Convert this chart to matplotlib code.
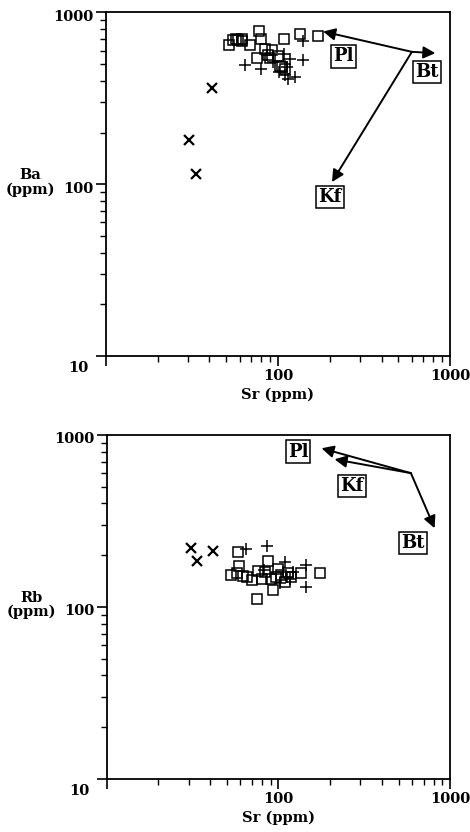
#!/usr/bin/env python3
"""
Sr-Ba and Sr-Rb log-log diagrams with mineral fractionation vectors
(Pl, Kf, Bt).  Three sample groups: squares, pluses and crosses.
"""
import matplotlib
matplotlib.use("Agg")
import matplotlib.pyplot as plt
import matplotlib.transforms as mtransforms
from matplotlib.ticker import LogLocator, NullFormatter, FixedLocator

plt.rcParams["font.family"] = ["DejaVu Serif"]
plt.rcParams["font.weight"] = "bold"

# ── Top panel: Sr vs Ba ────────────────────────────────────────────────
BA_SQ_SR = [52, 55, 57, 59, 62, 62, 69, 78, 80, 76, 84, 88, 92, 90, 100, 103, 106, 110, 109, 135, 171]
BA_SQ_BA = [650, 695, 705, 695, 680, 700, 650, 780, 700, 540, 615, 565, 607, 540, 560, 490, 480, 470, 705, 750, 728]

BA_PL_SR = [64, 80, 108, 118, 140, 140, 101, 110, 115, 86, 94, 113, 125]
BA_PL_BA = [492, 471, 575, 538, 685, 530, 449, 430, 411, 562, 513, 480, 420]

BA_X_SR = [41.5, 30.6, 33.5]
BA_X_BA = [365, 180, 115]

# vector origin and tips (Sr, Ba)
BA_ORIGIN = (600, 590)
BA_VECTORS = {"Pl": (183, 775), "Bt": (822, 580), "Kf": (206, 103)}
BA_LABELS = {"Pl": (240, 555), "Bt": (735, 450), "Kf": (201, 84)}

# ── Bottom panel: Sr vs Rb ─────────────────────────────────────────────
RB_SQ_SR = [58, 59, 53, 57, 62, 70, 76, 80, 87, 91, 93, 75, 104, 109, 113, 136, 174, 100, 66, 84, 97, 118]
RB_SQ_RB = [210, 174, 153, 157, 151, 143, 162, 145, 186, 145, 125, 112, 153, 140, 157, 157, 157, 166, 150, 160, 150, 150]

RB_PL_SR = [65, 86, 109, 144, 144, 82, 121, 102, 112, 106, 116]
RB_PL_RB = [216, 227, 183, 175, 131, 164, 160, 137, 150, 160, 145]

RB_X_SR = [30.8, 33.4, 41.3]
RB_X_RB = [219, 186, 212]

RB_ORIGIN = (590, 600)
RB_VECTORS = {"Pl": (178, 837), "Kf": (212, 722), "Bt": (811, 287)}
RB_LABELS = {"Pl": (130, 800), "Kf": (269, 505), "Bt": (607, 235)}


def style_axes(ax, ylabel):
    ax.set_xscale("log")
    ax.set_yscale("log")
    ax.set_xlim(10, 1000)
    ax.set_ylim(10, 1000)
    for sp in ax.spines.values():
        sp.set_linewidth(1.3)
    ax.xaxis.set_major_locator(FixedLocator([10, 100, 1000]))
    ax.yaxis.set_major_locator(FixedLocator([10, 100, 1000]))
    ax.xaxis.set_minor_locator(LogLocator(base=10, subs=range(2, 10)))
    ax.yaxis.set_minor_locator(LogLocator(base=10, subs=range(2, 10)))
    ax.xaxis.set_minor_formatter(NullFormatter())
    ax.yaxis.set_minor_formatter(NullFormatter())
    ax.set_xticklabels(["", "100", "1000"])
    ax.set_yticklabels(["10", "100", "1000"])
    ax.tick_params(which="major", direction="out", length=7, width=1.2,
                   labelsize=10.5, top=False, right=False)
    ax.tick_params(which="minor", direction="out", length=4, width=1.0,
                   top=False, right=False)
    ax.tick_params(axis="x", which="major", pad=2)
    ax.tick_params(axis="y", which="major", pad=2)
    # shift the y "10" label down into the corner
    lab = ax.get_yticklabels()[0]
    lab.set_transform(lab.get_transform() + mtransforms.ScaledTranslation(
        -0.05, -0.10, ax.figure.dpi_scale_trans))
    for lab in ax.get_yticklabels()[1:]:
        lab.set_transform(lab.get_transform() + mtransforms.ScaledTranslation(
            0, -0.03, ax.figure.dpi_scale_trans))
    ax.text(0.5, -0.092, "Sr (ppm)", transform=ax.transAxes, ha="center",
            va="top", fontsize=10.5, fontweight="bold")
    ax.text(-0.22, 0.505, ylabel, transform=ax.transAxes, ha="center",
            va="center", fontsize=10.5, fontweight="bold", linespacing=1.0)


def plot_points(ax, sq, pl, xx):
    ax.plot(sq[0], sq[1], ls="none", marker="s", ms=7.5, mfc="none",
            mec="black", mew=1.1, zorder=3)
    ax.plot(pl[0], pl[1], ls="none", marker="+", ms=9, mec="black",
            mew=1.1, zorder=3)
    ax.plot(xx[0], xx[1], ls="none", marker="x", ms=7, mec="black",
            mew=1.6, zorder=3)


def plot_vectors(ax, origin, vectors, labels):
    for name, tip in vectors.items():
        ax.annotate("", xy=tip, xytext=origin,
                    arrowprops=dict(arrowstyle="-|>", color="black", lw=1.4,
                                    mutation_scale=18, shrinkA=0, shrinkB=0),
                    zorder=4)
    for name, pos in labels.items():
        ax.text(pos[0], pos[1], name, ha="center", va="center", fontsize=13,
                fontweight="bold", zorder=5,
                bbox=dict(boxstyle="square,pad=0.12", fc="white", ec="black",
                          lw=1.1))


fig = plt.figure(figsize=(4.70, 8.32), dpi=100)
fig.patch.set_facecolor("white")

ax1 = fig.add_axes([0.225, 0.572, 0.7326, 0.413])
ax2 = fig.add_axes([0.227, 0.0637, 0.731, 0.4135])

style_axes(ax1, "Ba\n(ppm)")
plot_points(ax1, (BA_SQ_SR, BA_SQ_BA), (BA_PL_SR, BA_PL_BA), (BA_X_SR, BA_X_BA))
plot_vectors(ax1, BA_ORIGIN, BA_VECTORS, BA_LABELS)

style_axes(ax2, "Rb\n(ppm)")
plot_points(ax2, (RB_SQ_SR, RB_SQ_RB), (RB_PL_SR, RB_PL_RB), (RB_X_SR, RB_X_RB))
plot_vectors(ax2, RB_ORIGIN, RB_VECTORS, RB_LABELS)

fig.savefig("out.png", dpi=100)
